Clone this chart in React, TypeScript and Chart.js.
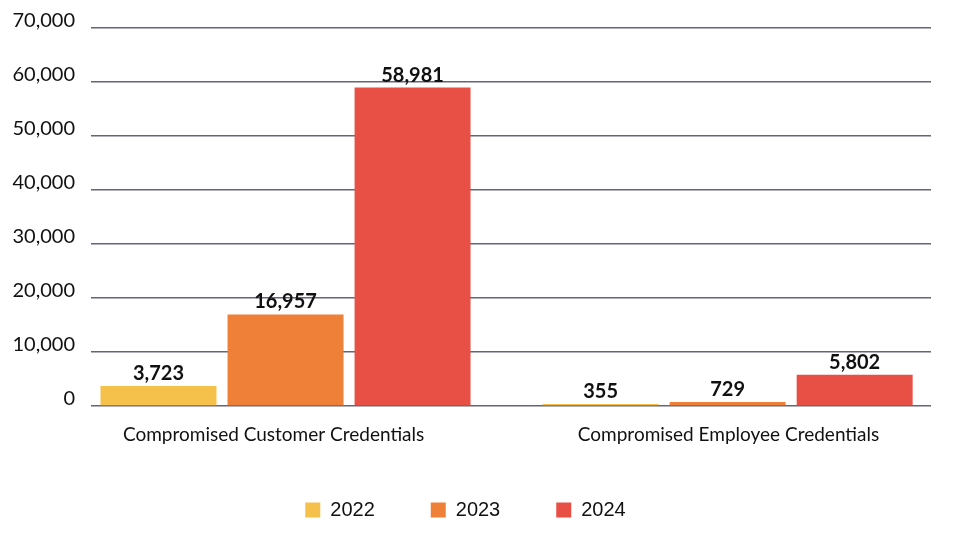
import React, { useEffect, useRef } from "react";
import { Chart, registerables } from "chart.js";

Chart.register(...registerables);

const categories = ["Compromised Customer Credentials", "Compromised Employee Credentials"];
const years = ["2022", "2023", "2024"];
const values2022 = [3723, 355];
const values2023 = [16957, 729];
const values2024 = [58981, 5802];
const colors = ["#F6C14A", "#EE8037", "#E85046"];
const yTicks = [0, 10000, 20000, 30000, 40000, 50000, 60000, 70000];

const fmt = (v: number) => v.toLocaleString("en-US");

const dataLabels = {
  id: "dataLabels",
  afterDatasetsDraw(chart: any) {
    const ctx = chart.ctx;
    ctx.save();
    ctx.font = "bold 20px Lato";
    ctx.fillStyle = "#111111";
    ctx.textAlign = "center";
    ctx.textBaseline = "alphabetic";
    chart.data.datasets.forEach((ds: any, di: number) => {
      const meta = chart.getDatasetMeta(di);
      meta.data.forEach((el: any, i: number) => {
        const v = ds.data[i].y;
        ctx.fillText(fmt(v), el.x, el.y - 6);
      });
    });
    ctx.restore();
  },
};

export default function App() {
  const ref = useRef<HTMLCanvasElement>(null);
  useEffect(() => {
    if (!ref.current) return;
    const series = [values2022, values2023, values2024];
    const chart = new Chart(ref.current, {
      type: "bar",
      data: {
        datasets: years.map((y, k) => ({
          label: y,
          data: series[k].map((v, i) => ({ x: i, y: v })),
          backgroundColor: colors[k],
          borderWidth: 0,
          categoryPercentage: 0.862,
          barPercentage: 0.913,
        })),
      },
      options: {
        responsive: false,
        animation: false,
        layout: { padding: { top: 21, right: 29, left: 0, bottom: 13 } },
        plugins: {
          tooltip: { enabled: false },
          legend: {
            position: "bottom",
            labels: {
              boxWidth: 15,
              boxHeight: 15,
              padding: 56,
              color: "#111111",
              font: { family: "Liberation Sans", size: 20 },
            },
          },
        },
        scales: {
          x: {
            type: "linear",
            min: -0.44,
            max: 1.46,
            offset: false,
            grid: { display: false, drawTicks: false },
            border: { display: false },
            afterBuildTicks: (scale: any) => {
              scale.ticks = [{ value: -0.027 }, { value: 1.002 }];
            },
            afterFit: (scale: any) => {
              scale.height = 38;
            },
            ticks: {
              autoSkip: false,
              maxRotation: 0,
              padding: 17,
              color: "#111111",
              font: { family: "Lato", size: 19 },
              callback: (v: any) => categories[Math.round(Number(v))] ?? "",
            },
          },
          y: {
            min: 0,
            max: 70000,
            afterBuildTicks: (scale: any) => {
              scale.ticks = yTicks.map((v) => ({ value: v }));
            },
            afterFit: (scale: any) => {
              scale.width = 91;
            },
            grid: { color: "#64647f", lineWidth: 1.5, drawTicks: false },
            border: { display: false },
            ticks: {
              padding: 16,
              labelOffset: -7,
              color: "#111111",
              font: { family: "Lato", size: 20 },
              callback: (v: any) => fmt(Number(v)),
            },
          },
        },
      },
      plugins: [dataLabels],
    } as any);
    return () => chart.destroy();
  }, []);
  return (
    <div style={{ position: "fixed", left: 0, top: 0, width: 960, height: 543, background: "#ffffff" }}>
      <canvas ref={ref} width={960} height={543} style={{ display: "block" }} />
    </div>
  );
}
